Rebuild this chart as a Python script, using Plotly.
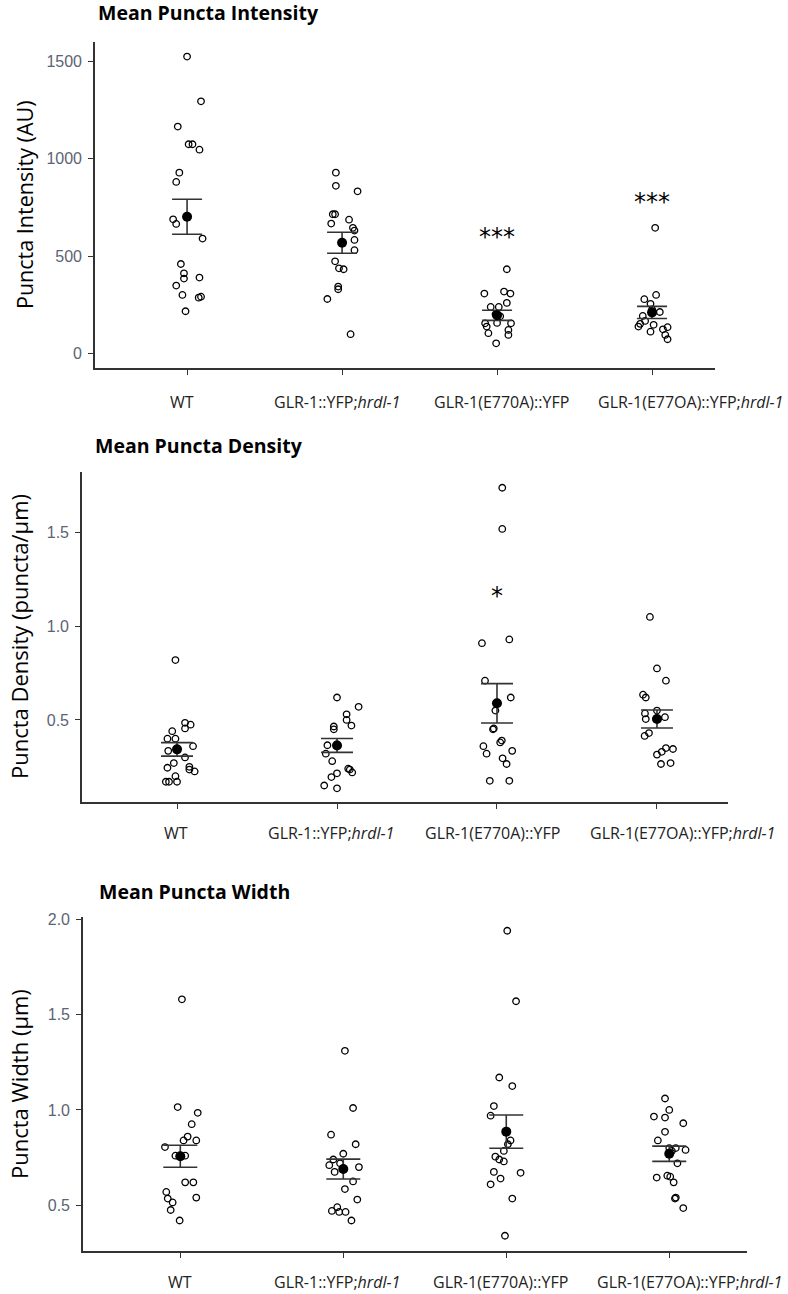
import plotly.graph_objects as go

W, H = 788, 1294

categories = ["WT", "GLR-1::YFP;<i>hrdl-1</i>", "GLR-1(E770A)::YFP", "GLR-1(E77OA)::YFP;<i>hrdl-1</i>"]

# ---------- Mean Puncta Intensity (AU) ----------
int_wt = [1526, 1296, 1166, 1075, 1075, 1047, 929, 881, 689, 665, 590, 459, 411, 384, 389, 348, 300, 286, 291, 216]
int_wt_dx = [0.00, 0.09, -0.06, 0.01, 0.035, 0.08, -0.05, -0.07, -0.09, -0.07, 0.10, -0.04, -0.02, -0.02, 0.08, -0.07, -0.03, 0.075, 0.09, -0.01]
int_g2 = [929, 861, 833, 715, 715, 667, 687, 645, 631, 583, 530, 473, 437, 432, 343, 329, 279, 98]
int_g2_dx = [-0.04, -0.04, 0.10, -0.06, -0.045, -0.07, 0.045, 0.07, 0.08, 0.08, 0.08, -0.045, -0.02, 0.01, -0.025, -0.025, -0.095, 0.055]
int_g3 = [432, 317, 307, 307, 259, 238, 238, 200, 190, 156, 154, 154, 137, 120, 103, 94, 51]
int_g3_dx = [0.063, 0.045, -0.082, 0.086, 0.063, -0.041, 0.011, -0.01, 0.02, 0.0, 0.09, -0.077, -0.067, 0.073, -0.056, 0.073, -0.006]
int_g4 = [645, 300, 278, 254, 225, 212, 192, 166, 151, 146, 137, 134, 123, 111, 94, 72]
int_g4_dx = [0.02, 0.026, -0.05, -0.01, 0.0, 0.05, -0.06, -0.045, -0.077, 0.01, -0.088, 0.1, 0.07, -0.01, 0.085, 0.1]
int_mean = [702, 568, 195, 210]
int_sem = [90, 54, 26, 31]
int_sig = ["", "", "***", "***"]
int_sig_y = [None, None, 600, 778]

# ---------- Mean Puncta Density (puncta/um) ----------
den_wt = [0.82, 0.485, 0.475, 0.44, 0.455, 0.40, 0.40, 0.36, 0.335, 0.30, 0.27, 0.245, 0.25, 0.235, 0.225, 0.20, 0.17, 0.17, 0.17]
den_wt_dx = [-0.01, 0.05, 0.085, -0.03, 0.05, -0.06, -0.01, 0.10, -0.055, 0.05, -0.02, -0.06, 0.077, 0.077, 0.11, -0.01, -0.07, -0.05, 0.0]
den_g2 = [0.62, 0.57, 0.53, 0.50, 0.47, 0.465, 0.45, 0.37, 0.365, 0.32, 0.28, 0.24, 0.235, 0.22, 0.215, 0.195, 0.15, 0.135]
den_g2_dx = [0.0, 0.135, 0.06, 0.06, 0.09, -0.02, -0.02, 0.0, -0.06, -0.07, -0.03, 0.07, 0.08, 0.095, 0.0, -0.035, -0.08, 0.0]
den_g3 = [1.74, 1.52, 0.91, 0.93, 0.71, 0.62, 0.55, 0.455, 0.45, 0.39, 0.38, 0.36, 0.32, 0.335, 0.295, 0.265, 0.175, 0.175]
den_g3_dx = [0.033, 0.033, -0.094, 0.077, -0.075, 0.086, -0.01, -0.02, -0.025, 0.03, 0.02, -0.085, -0.065, 0.095, 0.035, 0.06, -0.045, 0.077]
den_g4 = [1.05, 0.775, 0.71, 0.635, 0.62, 0.535, 0.505, 0.55, 0.515, 0.43, 0.415, 0.35, 0.345, 0.33, 0.315, 0.265, 0.27]
den_g4_dx = [-0.044, 0.0, 0.056, -0.087, -0.07, -0.075, -0.07, 0.0, 0.05, -0.05, -0.077, 0.056, 0.1, 0.03, 0.0, 0.025, 0.085]
den_mean = [0.343, 0.364, 0.589, 0.505]
den_sem = [0.036, 0.037, 0.105, 0.048]
den_sig = ["", "", "*", ""]
den_sig_y = [None, None, 1.16, None]

# ---------- Mean Puncta Width (um) ----------
wid_wt = [1.58, 1.015, 0.985, 0.925, 0.86, 0.84, 0.84, 0.805, 0.76, 0.76, 0.62, 0.62, 0.57, 0.54, 0.535, 0.515, 0.475, 0.42]
wid_wt_dx = [0.01, -0.016, 0.107, 0.07, 0.045, 0.098, 0.02, -0.094, 0.03, -0.03, 0.03, 0.08, -0.086, 0.098, -0.077, -0.047, -0.059, -0.004]
wid_g2 = [1.31, 1.01, 0.87, 0.82, 0.77, 0.74, 0.72, 0.71, 0.70, 0.675, 0.625, 0.585, 0.53, 0.49, 0.47, 0.465, 0.465, 0.42]
wid_g2_dx = [0.01, 0.06, -0.075, 0.076, 0.0, -0.061, -0.02, -0.086, 0.096, -0.053, 0.06, 0.01, 0.086, -0.037, -0.07, -0.025, 0.014, 0.05]
wid_g3 = [1.94, 1.57, 1.17, 1.125, 1.02, 0.97, 0.84, 0.82, 0.785, 0.755, 0.74, 0.73, 0.67, 0.675, 0.64, 0.61, 0.535, 0.34]
wid_g3_dx = [0.006, 0.06, -0.043, 0.037, -0.076, -0.096, 0.026, 0.01, -0.015, -0.067, -0.043, -0.015, 0.088, -0.076, -0.035, -0.096, 0.037, -0.008]
wid_g4 = [1.06, 1.0, 0.965, 0.96, 0.93, 0.885, 0.84, 0.80, 0.80, 0.79, 0.785, 0.72, 0.645, 0.655, 0.65, 0.62, 0.535, 0.54, 0.485]
wid_g4_dx = [-0.026, 0.0, -0.094, -0.026, 0.086, -0.026, -0.07, 0.0, 0.04, 0.1, 0.016, 0.05, -0.077, -0.012, 0.006, 0.027, 0.035, 0.04, 0.086]
wid_mean = [0.757, 0.69, 0.886, 0.77]
wid_sem = [0.058, 0.052, 0.087, 0.04]

panels = [
    dict(title="Mean Puncta Intensity", ytitle="Puncta Intensity (AU)",
         groups=[(int_wt, int_wt_dx), (int_g2, int_g2_dx), (int_g3, int_g3_dx), (int_g4, int_g4_dx)],
         mean=int_mean, sem=int_sem, sig=int_sig, sig_y=int_sig_y,
         px=(95, 715), py=(42, 368), xr=[-0.594, 3.406], yr=[-76, 1601],
         tickvals=[0, 500, 1000, 1500], ticktext=["0", "500", "1000", "1500"],
         title_xy=(96, 13), ytitle_size=21.5, ytitle_x=24, cap=15,
         lab_x=[182, 337, 501, 690], lab_y=402),
    dict(title="Mean Puncta Density", ytitle="Puncta Density (puncta/μm)",
         groups=[(den_wt, den_wt_dx), (den_g2, den_g2_dx), (den_g3, den_g3_dx), (den_g4, den_g4_dx)],
         mean=den_mean, sem=den_sem, sig=den_sig, sig_y=den_sig_y,
         px=(82, 728), py=(472, 802), xr=[-0.594, 3.444], yr=[0.062, 1.824],
         tickvals=[0.5, 1.0, 1.5], ticktext=["0.5", "1.0", "1.5"],
         title_xy=(93, 445), ytitle_size=22, ytitle_x=19, cap=16,
         lab_x=[176, 331, 492, 682], lab_y=833),
    dict(title="Mean Puncta Width", ytitle="Puncta Width (μm)",
         groups=[(wid_wt, wid_wt_dx), (wid_g2, wid_g2_dx), (wid_g3, wid_g3_dx), (wid_g4, wid_g4_dx)],
         mean=wid_mean, sem=wid_sem, sig=["", "", "", ""], sig_y=[None] * 4,
         px=(83, 747), py=(917, 1251), xr=[-0.597, 3.477], yr=[0.26, 2.012],
         tickvals=[0.5, 1.0, 1.5, 2.0], ticktext=["0.5", "1.0", "1.5", "2.0"],
         title_xy=(97, 891), ytitle_size=22, ytitle_x=19, cap=17,
         lab_x=[180, 337, 500, 689], lab_y=1282),
]

fig = go.Figure()
AX = "#333333"
TICKC = "#5b6475"
annotations = []

for i, p in enumerate(panels):
    n = "" if i == 0 else str(i + 1)
    xa, ya = "x" + n, "y" + n
    for gi, (vals, dxs) in enumerate(p["groups"]):
        fig.add_trace(go.Scatter(
            x=[gi + d for d in dxs], y=vals, xaxis=xa, yaxis=ya, mode="markers",
            marker=dict(symbol="circle-open", size=6.5, color="black", line=dict(width=1.3, color="black")),
            showlegend=False, hoverinfo="y"))
    fig.add_trace(go.Scatter(
        x=list(range(4)), y=p["mean"], xaxis=xa, yaxis=ya, mode="markers",
        marker=dict(symbol="circle", size=10, color="black"),
        error_y=dict(type="data", array=p["sem"], visible=True, color=AX, thickness=1.6, width=p["cap"]),
        showlegend=False))
    x0, x1 = p["px"]
    y0, y1 = p["py"]
    fig.update_layout(**{
        "xaxis" + n: dict(domain=[x0 / W, x1 / W], range=p["xr"], anchor=ya,
                          tickvals=list(range(4)), showticklabels=False, automargin=False,
                          showline=True, linecolor=AX, linewidth=1.6, ticks="outside",
                          ticklen=5, tickcolor=AX, showgrid=False, zeroline=False),
        "yaxis" + n: dict(domain=[1 - y1 / H, 1 - y0 / H], range=p["yr"], anchor=xa, automargin=False,
                          tickvals=p["tickvals"], ticktext=p["ticktext"],
                          showline=True, linecolor=AX, linewidth=1.6, ticks="outside",
                          ticklen=5, tickcolor=AX, showgrid=False, zeroline=False,
                          ticklabelstandoff=3,
                          tickfont=dict(family="Liberation Sans", size=16, color=TICKC)),
    })
    # category labels placed under each tick
    for lab, lx in zip(categories, p["lab_x"]):
        annotations.append(dict(text=lab, xref="paper", yref="paper", x=lx / W, y=1 - p["lab_y"] / H,
                                xanchor="center", yanchor="middle", showarrow=False,
                                font=dict(family="Open Sans", size=16, color="#222222")))
    tx, ty = p["title_xy"]
    annotations.append(dict(text="<b>" + p["title"] + "</b>", xref="paper", yref="paper",
                            x=tx / W, y=1 - ty / H, xanchor="left", yanchor="middle", showarrow=False,
                            font=dict(family="Open Sans", size=19.5, color="black")))
    annotations.append(dict(text=p["ytitle"], xref="paper", yref="paper", textangle=-90,
                            x=p["ytitle_x"] / W, y=1 - (y0 + y1) / 2 / H, xanchor="center", yanchor="middle",
                            showarrow=False, font=dict(family="Open Sans", size=p["ytitle_size"], color="black")))
    for gi, (s, sy) in enumerate(zip(p["sig"], p["sig_y"])):
        if s:
            annotations.append(dict(text=s, xref=xa, yref=ya, x=gi, y=sy, showarrow=False,
                                    xanchor="center", yanchor="middle",
                                    font=dict(family="DejaVu Sans", size=24, color="black")))

fig.update_layout(width=W, height=H, margin=dict(l=0, r=0, t=0, b=0),
                  paper_bgcolor="white", plot_bgcolor="white", annotations=annotations)

fig.write_html("out.html", config={"displayModeBar": False},
               post_script="document.body.style.margin='0px';")
